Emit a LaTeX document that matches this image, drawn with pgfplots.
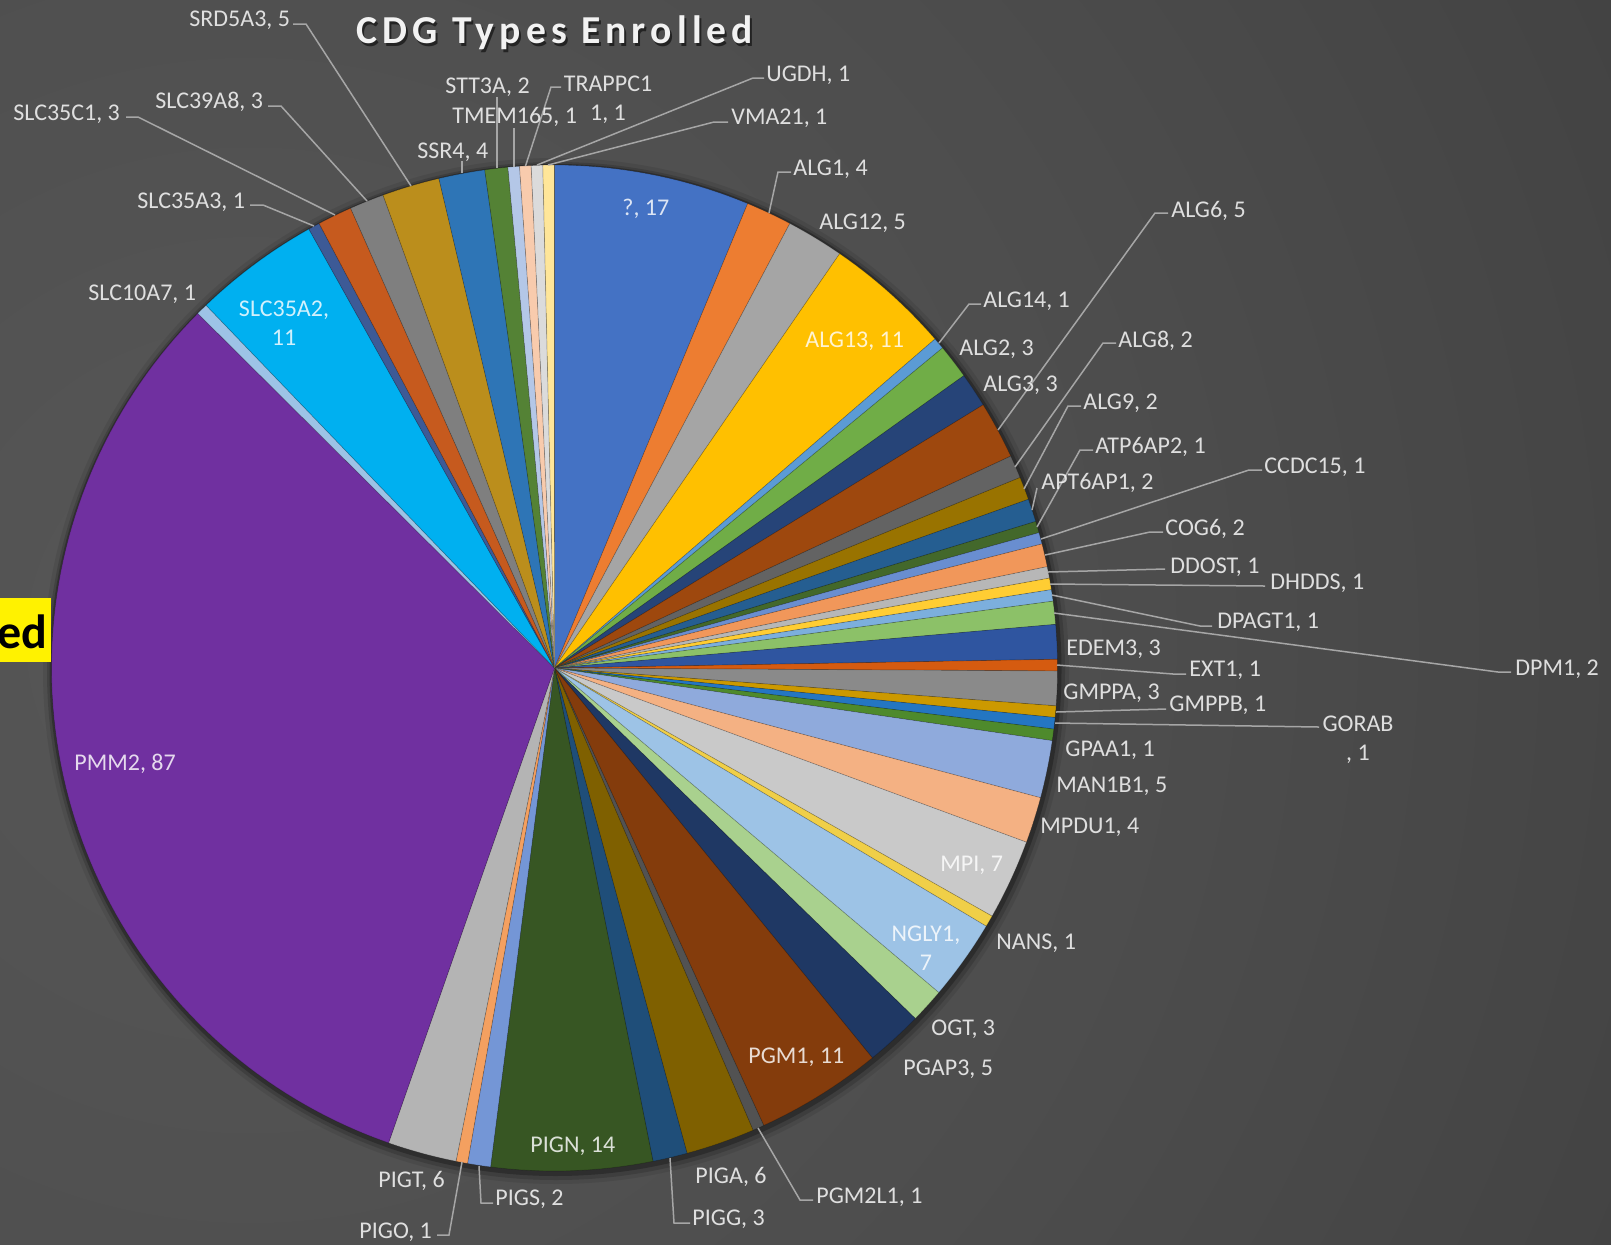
\documentclass[border=0pt]{standalone}
\usepackage{pgfplots}
\pgfplotsset{compat=1.18}
\usepackage{pgfplotstable}
\usepackage{fontspec}
\setmainfont{Carlito}
\newfontfamily\titlefont[LetterSpace=13]{Carlito}

\definecolor{bgA}{HTML}{575757}
\definecolor{bgB}{HTML}{4D4D4D}
\definecolor{bgC}{HTML}{3B3B3B}
\definecolor{bgD}{HTML}{2D2D2D}
\definecolor{bgE}{HTML}{292929}
\definecolor{leader}{HTML}{A6A6A6}
\pgfdeclareradialshading{bgshade}{\pgfpoint{0bp}{0bp}}{color(0bp)=(bgA); color(14bp)=(bgB); color(31bp)=(bgC); color(44bp)=(bgD); color(50bp)=(bgE)}

% CDG types enrolled, clockwise from 12 o'clock
\pgfplotstableread{
name value color
?        17 4472C4
ALG1      4 ED7D31
ALG12     5 A5A5A5
ALG13    11 FFC000
ALG14     1 5B9BD5
ALG2      3 70AD47
ALG3      3 264478
ALG6      5 9E480E
ALG8      2 636363
ALG9      2 997300
APT6AP1   2 255E91
ATP6AP2   1 43682B
CCDC15    1 698ED0
COG6      2 F1975A
DDOST     1 B7B7B7
DHDDS     1 FFCD33
DPAGT1    1 7CAFDD
DPM1      2 8CC168
EDEM3     3 2F55A0
EXT1      1 D55B10
GMPPA     3 8A8A8A
GMPPB     1 CC9900
GORAB     1 2476C2
GPAA1     1 4E8A2C
MAN1B1    5 8FAADC
MPDU1     4 F4B183
MPI       7 C9C9C9
NANS      1 F0CF48
NGLY1     7 9DC3E6
OGT       3 A9D18E
PGAP3     5 1F3864
PGM1     11 843C0C
PGM2L1    1 525252
PIGA      6 7F6000
PIGG      3 1F4E79
PIGN     14 375623
PIGS      2 7496D6
PIGO      1 F4A060
PIGT      6 B4B4B4
PMM2     87 7030A0
SLC10A7   1 9DC3E6
SLC35A2  11 00B0F0
SLC35A3   1 3D5A96
SLC35C1   3 C65A1E
SLC39A8   3 7F7F7F
SRD5A3    5 BB8E1C
SSR4      4 2E75B6
STT3A     2 548235
TMEM165   1 B4C7E7
TRAPPC11  1 F8CBAD
UGDH      1 DBDBDB
VMA21     1 FFE699
}\piedata

\tikzset{
  lbl/.style={anchor=base west, inner sep=0pt, text=white, text opacity=0.82, font=\fontsize{12}{14}\selectfont},
  lblc/.style={lbl, anchor=base},
  ldr/.style={draw=leader, line width=0.75pt},
}

\begin{document}
\begin{tikzpicture}
\begin{scope}[x=0.5pt,y=0.5pt]
  \clip (0,0) rectangle (1611,1244);
  \shade[shading=bgshade] (250,604) circle [radius=1600];
  \fill[black, opacity=0.08] (556,573) circle [radius=513];
  \fill[black, opacity=0.15] (556,573) circle [radius=509];
  \fill[black, opacity=0.25] (555.5,574) circle [radius=506];
\end{scope}

\begin{axis}[at={(0,0)}, anchor=south west, scale only axis,
  width=805.5pt, height=622pt,
  xmin=0, xmax=1611, ymin=0, ymax=1244, y dir=reverse,
  hide axis, clip=false]

\pgfplotstablegetrowsof{\piedata}
\pgfmathtruncatemacro\nrows{\pgfplotsretval-1}
\xdef\total{0}
\pgfplotstableforeachcolumnelement{value}\of\piedata\as\cell{\pgfmathsetmacro\tt{\total+\cell}\xdef\total{\tt}}
\pgfmathsetmacro\degper{360/\total}
\xdef\degper{\degper}
\xdef\cum{0}
\pgfplotsinvokeforeach{0,...,\nrows}{%
  \pgfplotstablegetelem{#1}{value}\of\piedata
  \let\v\pgfplotsretval
  \pgfplotstablegetelem{#1}{color}\of\piedata
  \edef\tmp{\noexpand\xglobal\noexpand\definecolor{slice#1}{HTML}{\pgfplotsretval}}\tmp
  \pgfmathsetmacro\ta{-90+\degper*\cum}
  \pgfmathsetmacro\tb{-90+\degper*(\cum+\v)}
  \pgfmathtruncatemacro\ns{3+\v}
  \edef\doslice{\noexpand\addplot[fill=slice#1, draw=black, draw opacity=0.2, line width=0.35pt, domain=\ta:\tb, samples=\ns, forget plot] ({554.5+503*cos(x)},{668+503*sin(x)}) -- (axis cs:554.5,668) -- cycle;}
  \doslice
  \pgfmathsetmacro\c{\cum+\v}\xdef\cum{\c}
}

% title
\node[anchor=base, font=\titlefont\bfseries\fontsize{19.8}{22}\selectfont, text=black, text opacity=0.55] at (axis cs:557,46) {CDG Types Enrolled};
\node[anchor=base, font=\titlefont\bfseries\fontsize{19.8}{22}\selectfont, text=white!95!black] at (axis cs:555,43) {CDG Types Enrolled};

% yellow box at left edge
\fill[yellow] (axis cs:-20,598) rectangle (axis cs:51,662);
\node[anchor=base east, inner sep=0pt, font=\bfseries\fontsize{24}{26}\selectfont, text=black] at (axis cs:48,648) {ed};

% leader lines
\draw[ldr] (axis cs:293,24) -- (axis cs:306,24) -- (axis cs:411,186);
\draw[ldr] (axis cs:268,106) -- (axis cs:281,106) -- (axis cs:367,201);
\draw[ldr] (axis cs:126,117) -- (axis cs:138,117) -- (axis cs:335,215);
\draw[ldr] (axis cs:250,205) -- (axis cs:263,205) -- (axis cs:314,226);
\draw[ldr] (axis cs:462,161) -- (axis cs:462,173);
\draw[ldr] (axis cs:497,97) -- (axis cs:497,168);
\draw[ldr] (axis cs:514,128) -- (axis cs:514,167);
\draw[ldr] (axis cs:561,87) -- (axis cs:551,87) -- (axis cs:525.5,166);
\draw[ldr] (axis cs:764,78) -- (axis cs:753,78) -- (axis cs:537,165);
\draw[ldr] (axis cs:728,122) -- (axis cs:714,122) -- (axis cs:548,165);
\draw[ldr] (axis cs:791,172) -- (axis cs:778,172) -- (axis cs:769,213);
\draw[ldr] (axis cs:981,304) -- (axis cs:969,304) -- (axis cs:939,343);
\draw[ldr] (axis cs:1168,213) -- (axis cs:1155,213) -- (axis cs:998,430);
\draw[ldr] (axis cs:1116,343) -- (axis cs:1103,343) -- (axis cs:1015,467);
\draw[ldr] (axis cs:1081,406) -- (axis cs:1068,406) -- (axis cs:1024,489);
\draw[ldr] (axis cs:1037,488) -- (axis cs:1032,510);
\draw[ldr] (axis cs:1093,450) -- (axis cs:1080,450) -- (axis cs:1037,527);
\draw[ldr] (axis cs:1262,470) -- (axis cs:1249,470) -- (axis cs:1041,539);
\draw[ldr] (axis cs:1163,532) -- (axis cs:1150,532) -- (axis cs:1045,555);
\draw[ldr] (axis cs:1165,569) -- (axis cs:1048,572);
\draw[ldr] (axis cs:1265,586) -- (axis cs:1050,584);
\draw[ldr] (axis cs:1212,626) -- (axis cs:1200,626) -- (axis cs:1052,595);
\draw[ldr] (axis cs:1511,672) -- (axis cs:1498,672) -- (axis cs:1054,613);
\draw[ldr] (axis cs:1186,674) -- (axis cs:1173,674) -- (axis cs:1057,665);
\draw[ldr] (axis cs:1166,709) -- (axis cs:1056,712);
\draw[ldr] (axis cs:1319,727) -- (axis cs:1055,723);
\draw[ldr] (axis cs:813,1200) -- (axis cs:800,1200) -- (axis cs:758,1128);
\draw[ldr] (axis cs:690,1223) -- (axis cs:674,1223) -- (axis cs:670,1158);
\draw[ldr] (axis cs:493,1203) -- (axis cs:481,1203) -- (axis cs:479,1166);
\draw[ldr] (axis cs:437,1235) -- (axis cs:449,1235) -- (axis cs:462,1162);

% labels
\node[lbl] at (axis cs:189,26) {SRD5A3, 5};
\node[lbl] at (axis cs:155,108) {SLC39A8, 3};
\node[lbl] at (axis cs:13,120) {SLC35C1, 3};
\node[lbl] at (axis cs:137,208) {SLC35A3, 1};
\node[lbl] at (axis cs:88,300) {SLC10A7, 1};
\node[lblc] at (axis cs:284,316) {SLC35A2,};
\node[lblc] at (axis cs:284,345) {11};
\node[lbl] at (axis cs:417,158) {SSR4, 4};
\node[lbl] at (axis cs:445,93) {STT3A, 2};
\node[lbl] at (axis cs:452,123) {TMEM165, 1};
\node[lblc] at (axis cs:608,91) {TRAPPC1};
\node[lblc] at (axis cs:608,120) {1, 1};
\node[lbl] at (axis cs:766,81) {UGDH, 1};
\node[lbl] at (axis cs:731,124) {VMA21, 1};
\node[lbl] at (axis cs:622,215) {?, 17};
\node[lbl] at (axis cs:793,175) {ALG1, 4};
\node[lbl] at (axis cs:819,229) {ALG12, 5};
\node[lbl] at (axis cs:805,347) {ALG13, 11};
\node[lbl] at (axis cs:983,307) {ALG14, 1};
\node[lbl] at (axis cs:959,355) {ALG2, 3};
\node[lbl] at (axis cs:983,391) {ALG3, 3};
\node[lbl] at (axis cs:1171,217) {ALG6, 5};
\node[lbl] at (axis cs:1118,347) {ALG8, 2};
\node[lbl] at (axis cs:1083,409) {ALG9, 2};
\node[lbl] at (axis cs:1095,453) {ATP6AP2, 1};
\node[lbl] at (axis cs:1041,489) {APT6AP1, 2};
\node[lbl] at (axis cs:1264,473) {CCDC15, 1};
\node[lbl] at (axis cs:1165,535) {COG6, 2};
\node[lbl] at (axis cs:1170,573) {DDOST, 1};
\node[lbl] at (axis cs:1270,589) {DHDDS, 1};
\node[lbl] at (axis cs:1217,628) {DPAGT1, 1};
\node[lbl] at (axis cs:1515,675) {DPM1, 2};
\node[lbl] at (axis cs:1066,655) {EDEM3, 3};
\node[lbl] at (axis cs:1189,676) {EXT1, 1};
\node[lbl] at (axis cs:1063,699) {GMPPA, 3};
\node[lbl] at (axis cs:1169,711) {GMPPB, 1};
\node[lblc] at (axis cs:1358,731) {GORAB};
\node[lblc] at (axis cs:1358,760) {, 1};
\node[lbl] at (axis cs:1065,756) {GPAA1, 1};
\node[lbl] at (axis cs:1056,792) {MAN1B1, 5};
\node[lbl] at (axis cs:1040,833) {MPDU1, 4};
\node[lbl] at (axis cs:940,871) {MPI, 7};
\node[lbl] at (axis cs:996,949) {NANS, 1};
\node[lblc] at (axis cs:926,941) {NGLY1,};
\node[lblc] at (axis cs:926,970) {7};
\node[lbl] at (axis cs:931,1035) {OGT, 3};
\node[lbl] at (axis cs:903,1075) {PGAP3, 5};
\node[lbl] at (axis cs:748,1063) {PGM1, 11};
\node[lbl] at (axis cs:530,1152) {PIGN, 14};
\node[lbl] at (axis cs:695,1183) {PIGA, 6};
\node[lbl] at (axis cs:816,1203) {PGM2L1, 1};
\node[lbl] at (axis cs:692,1225) {PIGG, 3};
\node[lbl] at (axis cs:378,1187) {PIGT, 6};
\node[lbl] at (axis cs:495,1205) {PIGS, 2};
\node[lbl] at (axis cs:359,1238) {PIGO, 1};
\node[lbl] at (axis cs:74,770) {PMM2, 87};
\end{axis}
\pgfresetboundingbox
\useasboundingbox (0,0) rectangle (805.5pt,622pt);
\end{tikzpicture}
\end{document}
